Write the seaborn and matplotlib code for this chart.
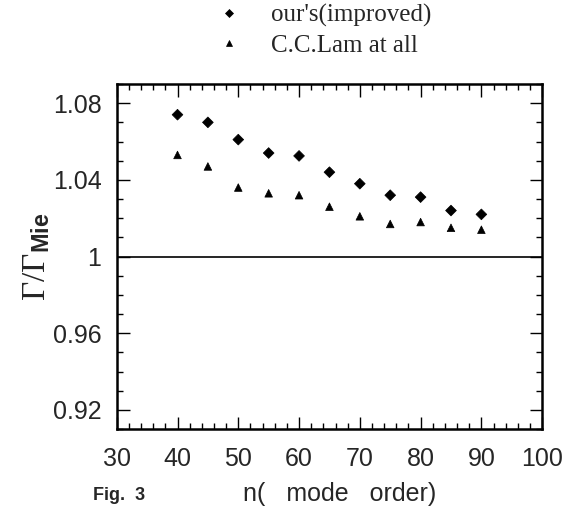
import numpy as np
import pandas as pd
import seaborn as sns
import matplotlib.pyplot as plt
from matplotlib.ticker import MultipleLocator, FuncFormatter

#----------------------------------------
n_order = [40, 45, 50, 55, 60, 65, 70, 75, 80, 85, 90]
ours = [1.074, 1.070, 1.061, 1.054, 1.0525, 1.044, 1.038, 1.032, 1.031, 1.024, 1.022]
lam = [1.053, 1.047, 1.036, 1.033, 1.032, 1.026, 1.021, 1.017, 1.018, 1.015, 1.014]
series_names = ["our's(improved)", "C.C.Lam at all"]
#----------------------------------------

df = pd.DataFrame({
    'n': n_order * 2,
    'ratio': ours + lam,
    'series': [series_names[0]] * len(ours) + [series_names[1]] * len(lam),
})

sns.set_style('white')
plt.rcParams['font.family'] = ['Liberation Sans', 'DejaVu Sans']
plt.rcParams['mathtext.fontset'] = 'custom'
plt.rcParams['mathtext.rm'] = 'Liberation Serif'
plt.rcParams['mathtext.it'] = 'Liberation Serif:italic'
plt.rcParams['mathtext.bf'] = 'Liberation Sans:bold'

fig = plt.figure(figsize=(5.68, 5.17), dpi=100)
ax = fig.add_axes([0.2055, 0.170, 0.749, 0.6675])

sns.scatterplot(data=df, x='n', y='ratio', style='series', hue='series',
                palette=['black', 'black'], markers={series_names[0]: 'D', series_names[1]: '^'},
                s=30, edgecolor='black', linewidth=0.5, ax=ax, legend=True)

ax.axhline(1.0, color='black', lw=1.2)

ax.set_xlim(30, 100)
ax.set_ylim(0.91, 1.09)
ax.xaxis.set_major_locator(MultipleLocator(10))
ax.xaxis.set_minor_locator(MultipleLocator(2))
ax.yaxis.set_major_locator(MultipleLocator(0.04))
ax.yaxis.set_minor_locator(MultipleLocator(0.01))
ax.yaxis.set_major_formatter(FuncFormatter(lambda v, p: ('%.2f' % v).rstrip('0').rstrip('.')))

ax.tick_params(which='both', direction='in', top=True, right=True, bottom=True, left=True,
               color='black', width=1)
ax.tick_params(which='major', length=9, labelsize=18)
ax.tick_params(axis='x', which='major', pad=13)
ax.tick_params(axis='y', which='major', pad=11)
ax.tick_params(which='minor', length=4)
for sp in ax.spines.values():
    sp.set_color('black')
    sp.set_linewidth(1.8)

ax.set_xlabel('')
ax.set_ylabel(r'$\Gamma/\Gamma_{\mathbf{Mie}}$', fontsize=24, labelpad=0)
fig.text(0.598, 0.030, 'n(   mode   order)', fontsize=18, ha='center')

ax.legend(loc='upper left', bbox_to_anchor=(0.382, 0.992), bbox_transform=fig.transFigure,
          frameon=False, prop={'family': 'Liberation Serif', 'size': 18},
          handlelength=1.0, handletextpad=1.15, labelspacing=0.3,
          borderpad=0, borderaxespad=0, markerscale=0.8)

fig.text(0.164, 0.032, 'Fig.  3', fontsize=13, fontweight='bold')

fig.savefig('out.png', dpi=100)
